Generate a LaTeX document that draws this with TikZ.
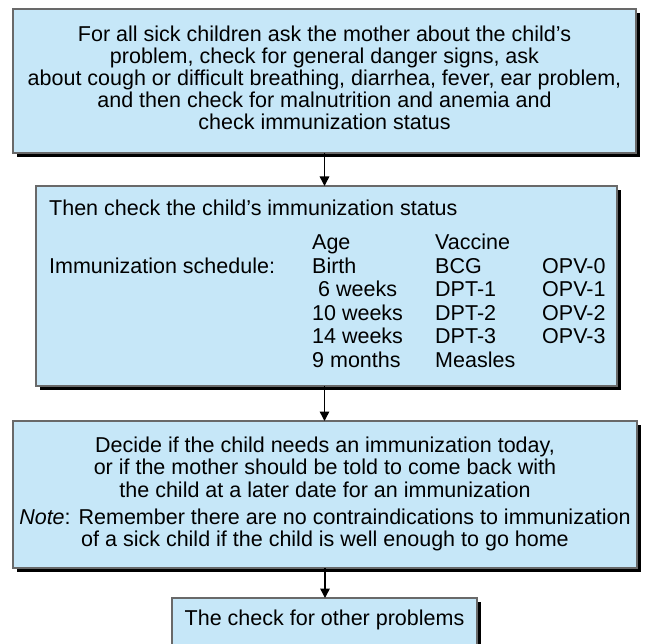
\documentclass[tikz,border=0pt]{standalone}
\usepackage{fontspec}
\setmainfont{Liberation Sans}
\usetikzlibrary{arrows.meta,shadows}
\definecolor{boxfill}{RGB}{198,231,248}
\definecolor{boxline}{RGB}{105,105,105}
\begin{document}
\begin{tikzpicture}[x=1pt,y=-1pt,
  box/.style={draw=boxline, line width=1.1pt, fill=boxfill, rectangle, anchor=north west, inner sep=0pt, outer sep=0pt,
    drop shadow={shadow xshift=3.8pt, shadow yshift=-3.8pt, fill=black, opacity=1}},
  txt/.style={inner sep=0pt, font=\fontsize{21.5}{22}\selectfont},
  cell/.style={txt, anchor=base west},
  arr/.style={line width=1.5pt, -{Triangle[length=9.5pt,width=9.5pt]}}]
\useasboundingbox (0,0) rectangle (645,644);
\clip (0,0) rectangle (645,644);
\fill[white] (0,0) rectangle (645,644);

% boxes
\node[box, minimum width=623pt, minimum height=144pt] (b1) at (13,9) {};
\node[box, minimum width=581pt, minimum height=200pt] (b2) at (36,186) {};
\node[box, minimum width=624pt, minimum height=147pt] (b3) at (13,421) {};
\node[box, minimum width=305pt, minimum height=70pt] (b4) at (172,598) {};

% box 1 text
\node[txt, align=center] (t1) at (324.5,77.5) {For all sick children ask the mother about the child’s\\
problem, check for general danger signs, ask\\
about cough or difficult breathing, diarrhea, fever, ear problem,\\
and then check for malnutrition and anemia and\\
check immunization status};

% box 2 text
\node[cell] (t2) at (49,215.5) {Then check the child’s immunization status};
\node[cell] (sch) at (49,273) {Immunization schedule:};
\node[cell] (a0) at (312,249.5) {Age};
\node[cell] (a1) at (312,273) {Birth};
\node[cell] (a2) at (318,296.5) {6 weeks};
\node[cell] (a3) at (312,320) {10 weeks};
\node[cell] (a4) at (312,343.5) {14 weeks};
\node[cell] (a5) at (312,367) {9 months};
\node[cell] (v0) at (435,249.5) {Vaccine};
\node[cell] (v1) at (435,273) {BCG};
\node[cell] (v2) at (435,296.5) {DPT-1};
\node[cell] (v3) at (435,320) {DPT-2};
\node[cell] (v4) at (435,343.5) {DPT-3};
\node[cell] (v5) at (435,367) {Measles};
\node[cell] (o1) at (542,273) {OPV-0};
\node[cell] (o2) at (542,296.5) {OPV-1};
\node[cell] (o3) at (542,320) {OPV-2};
\node[cell] (o4) at (542,343.5) {OPV-3};

% box 3 text
\node[txt, align=center] (t3) at (325,494) {Decide if the child needs an immunization today,\\[0.5pt]
or if the mother should be told to come back with\\[0.5pt]
the child at a later date for an immunization\\[5pt]
\textit{Note}: Remember there are no contraindications to immunization\\[0.5pt]
of a sick child if the child is well enough to go home};

% box 4 text
\node[txt] (t4) at (324.5,620) {The check for other problems};

% connectors
\draw[arr] (b1.south) -- (b1.south |- b2.north);
\draw[arr] (b2.south -| b1.south) -- (b1.south |- b3.north);
\draw[arr] (b3.south) -- (b3.south |- b4.north);
\end{tikzpicture}
\end{document}
